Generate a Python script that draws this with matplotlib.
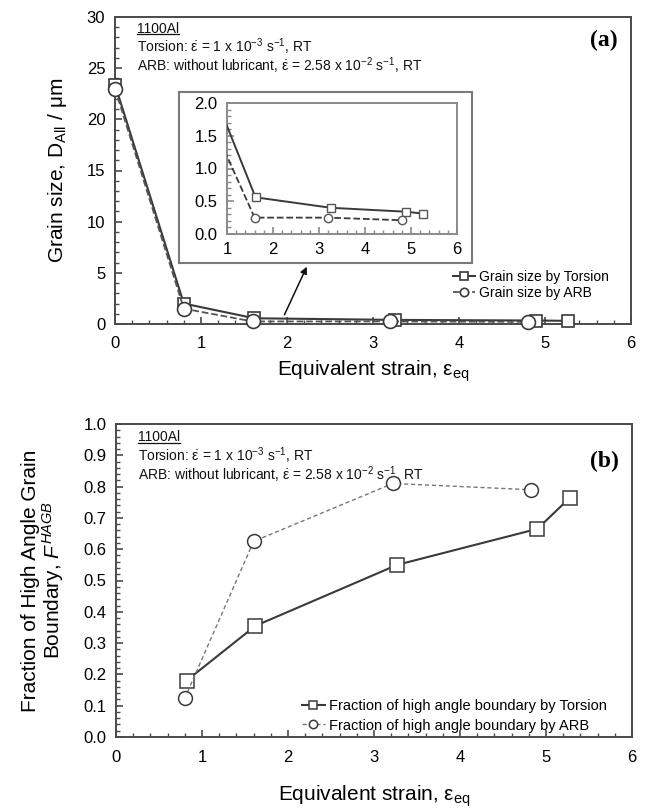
import matplotlib
matplotlib.use('Agg')
import matplotlib.pyplot as plt
from matplotlib.ticker import MultipleLocator, FormatStrFormatter
from matplotlib.lines import Line2D

plt.rcParams['font.family'] = ['Liberation Sans', 'DejaVu Sans']
plt.rcParams['mathtext.fontset'] = 'custom'
plt.rcParams['mathtext.rm'] = 'Liberation Sans'
plt.rcParams['mathtext.it'] = 'Liberation Sans:italic'
plt.rcParams['mathtext.bf'] = 'Liberation Sans:bold'

# ================= data =================
# (a) grain size
gs_tor_x = [0.0, 0.8, 1.62, 3.26, 4.9, 5.27]
gs_tor_y = [23.4, 2.0, 0.56, 0.40, 0.34, 0.31]
gs_arb_x = [0.0, 0.8, 1.6, 3.2, 4.8]
gs_arb_y = [23.0, 1.5, 0.25, 0.25, 0.21]

# (b) fraction of HAGB
hagb_tor_x = [0.82, 1.62, 3.27, 4.9, 5.28]
hagb_tor_y = [0.18, 0.355, 0.55, 0.665, 0.765]
hagb_arb_x = [0.8, 1.6, 3.22, 4.82]
hagb_arb_y = [0.124, 0.625, 0.81, 0.79]

label_tor_a = 'Grain size by Torsion'
label_arb_a = 'Grain size by ARB'
label_tor_b = 'Fraction of high angle boundary by Torsion'
label_arb_b = 'Fraction of high angle boundary by ARB'

alloy = '1100Al'
cond_lines = [r'Torsion: $\mathrm{\dot{\varepsilon}}$ = 1 x 10$^{-3}$ s$^{-1}$, RT',
              r'ARB: without lubricant, $\mathrm{\dot{\varepsilon}}$ = 2.58 x 10$^{-2}$ s$^{-1}$, RT']

W, H = 645, 809
DARK = '#3a3a3a'
SPINE = '#4a4a4a'


def fx(px):
    return px / W


def fy(py):
    return 1 - py / H


def style_axes(ax, xmin, ymaj, ymin, fmt):
    for s in ax.spines.values():
        s.set_color(SPINE)
        s.set_linewidth(1.4)
    ax.xaxis.set_major_locator(MultipleLocator(1))
    ax.xaxis.set_minor_locator(MultipleLocator(xmin))
    ax.yaxis.set_major_locator(MultipleLocator(ymaj))
    ax.yaxis.set_minor_locator(MultipleLocator(ymin))
    ax.yaxis.set_major_formatter(FormatStrFormatter(fmt))
    ax.tick_params(which='both', direction='in', color=SPINE, labelsize=12,
                   top=False, right=False)
    ax.tick_params(which='major', length=5, width=1.2)
    ax.tick_params(axis='x', which='major', pad=9)
    ax.tick_params(axis='y', which='major', pad=7)
    ax.tick_params(which='minor', length=3, width=1.0)


def add_conditions(fig, ax, y_top, y_block, panel, panel_y):
    t0 = ax.text(0.043, y_top, alloy, transform=ax.transAxes,
                 fontsize=10, va='center', ha='left', color='#111111')
    ax.text(0.043, y_block, '\n'.join(cond_lines), transform=ax.transAxes,
            fontsize=10, va='top', ha='left', color='#111111', linespacing=0.9)
    ax.text(0.975, panel_y, panel, transform=ax.transAxes, fontsize=17,
            fontweight='bold', family='Liberation Serif', ha='right', va='center')
    # underline the alloy name
    fig.canvas.draw()
    bb = t0.get_window_extent().transformed(ax.transAxes.inverted())
    ax.add_line(Line2D([bb.x0, bb.x1], [bb.y0 + 0.004, bb.y0 + 0.004],
                       transform=ax.transAxes, color='#111111', lw=0.9))


fig = plt.figure(figsize=(6.45, 8.09), dpi=100)

# ================= (a) =================
ax1 = fig.add_axes([fx(115), fy(324), fx(631) - fx(115), fy(17) - fy(324)])
ax1.plot(gs_tor_x, gs_tor_y, '-s', color=DARK, lw=1.5, ms=9, mfc='white',
         mec=DARK, mew=1.2, label=label_tor_a, clip_on=False, zorder=3)
ax1.plot(gs_arb_x, gs_arb_y, '--o', color='#555555', lw=1.3, ms=10, mfc='white',
         mec=DARK, mew=1.2, label=label_arb_a, clip_on=False, zorder=4)
ax1.set_xlim(0, 6)
ax1.set_ylim(0, 30)
style_axes(ax1, 0.2, 5, 1, '%d')
ax1.set_xlabel(r'Equivalent strain, $\mathrm{\varepsilon_{eq}}$', fontsize=15, labelpad=5)
ax1.set_ylabel(r'Grain size, D$_{\mathrm{All}}$ / $\mathrm{\mu}$m', fontsize=15)
ax1.yaxis.set_label_coords(-0.09, 0.5)
ax1.legend(loc='upper left', bbox_to_anchor=(0.655, 0.175), frameon=False,
           fontsize=10, handlelength=1.6, handletextpad=0.25, labelspacing=0.15,
           borderpad=0, borderaxespad=0, markerscale=0.6)
ax1.annotate('', xy=(2.23, 5.6), xytext=(1.97, 0.9),
             arrowprops=dict(arrowstyle='-|>', color='#111111', lw=1.1,
                             mutation_scale=10, shrinkA=0, shrinkB=0))

# inset frame
frame = fig.add_axes([fx(179), fy(263), fx(472) - fx(179), fy(92) - fy(263)])
frame.set_xticks([])
frame.set_yticks([])
for s in frame.spines.values():
    s.set_color('#7a7a7a')
    s.set_linewidth(1.5)

ins = fig.add_axes([fx(227), fy(234), fx(457) - fx(227), fy(103) - fy(234)])
ins.plot(gs_tor_x, gs_tor_y, '-s', color=DARK, lw=1.4, ms=6, mfc='white',
         mec='#555555', mew=1.0, zorder=3)
ins.plot(gs_arb_x, gs_arb_y, '--o', color=DARK, lw=1.3, ms=6, mfc='white',
         mec='#555555', mew=1.0, zorder=4)
ins.set_xlim(1, 6)
ins.set_ylim(0, 2)
style_axes(ins, 0.2, 0.5, 0.1, '%.1f')
for s in ins.spines.values():
    s.set_color('#8a8a8a')
ins.tick_params(which='both', color='#8a8a8a')
ins.tick_params(axis='x', which='major', pad=6)

add_conditions(fig, ax1, 0.962, 0.937, '(a)', 0.925)

# ================= (b) =================
ax2 = fig.add_axes([fx(116), fy(737), fx(632) - fx(116), fy(424) - fy(737)])
ax2.plot(hagb_tor_x, hagb_tor_y, '-s', color=DARK, lw=1.5, ms=10, mfc='white',
         mec=DARK, mew=1.1, label=label_tor_b, zorder=3)
ax2.plot(hagb_arb_x, hagb_arb_y, linestyle=(0, (3, 2)), marker='o', color='#777777',
         lw=1.0, ms=10, mfc='white', mec=DARK, mew=1.1, label=label_arb_b, zorder=4)
ax2.set_xlim(0, 6)
ax2.set_ylim(0, 1)
style_axes(ax2, 0.2, 0.1, 0.02, '%.1f')
ax2.set_xlabel(r'Equivalent strain, $\mathrm{\varepsilon_{eq}}$', fontsize=15, labelpad=14)
ax2.set_ylabel('Fraction of High Angle Grain\nBoundary, $F^{HAGB}$', fontsize=15,
               linespacing=1.0)
ax2.yaxis.set_label_coords(-0.097, 0.5)
ax2.legend(loc='upper left', bbox_to_anchor=(0.36, 0.12), frameon=False,
           fontsize=10.5, handlelength=1.6, handletextpad=0.25, labelspacing=0.35,
           borderpad=0, borderaxespad=0, markerscale=0.6)

add_conditions(fig, ax2, 0.957, 0.932, '(b)', 0.879)

fig.savefig('out.png', dpi=100)
